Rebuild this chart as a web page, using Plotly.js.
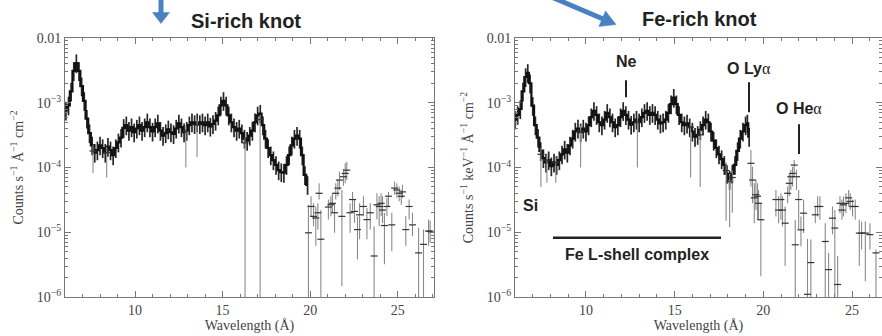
<!DOCTYPE html>
<html>
<head>
<meta charset="utf-8">
<script src="https://cdn.plot.ly/plotly-3.0.1.min.js"></script>
<style>html,body{margin:0;padding:0;background:#fff;}#chart{width:882px;height:336px;}</style>
</head>
<body>
<div id="chart"></div>
<script>
// ---------- DATA ----------
// Si-rich knot: densely binned part (wavelength in Å, flux)
const siDenseWl = [6.05,6.2,6.35,6.5,6.65,6.8,6.95,7.1,7.25,7.4,7.55,7.7,7.85,8.0,8.15,8.3,8.45,8.6,8.75,8.9,9.05,9.2,9.35,9.5,9.65,9.8,9.95,10.1,10.25,10.4,10.55,10.7,10.85,11.0,11.15,11.3,11.45,11.6,11.75,11.9,12.05,12.2,12.35,12.5,12.65,12.8,12.95,13.1,13.25,13.4,13.55,13.7,13.85,14.0,14.15,14.3,14.45,14.6,14.75,14.9,15.05,15.2,15.35,15.5,15.65,15.8,15.95,16.1,16.25,16.4,16.55,16.7,16.85,17.0,17.15,17.3,17.45,17.6,17.75,17.9,18.05,18.2,18.35,18.5,18.65,18.8,18.95,19.1,19.25,19.4,19.55,19.7,19.85];
const siDenseFlux = [7.6e-4,9.1e-4,1.5e-3,3.1e-3,4.1e-3,3.1e-3,1.8e-3,1.07e-3,5.7e-4,3.4e-4,2.2e-4,1.7e-4,1.85e-4,2.2e-4,2.0e-4,1.7e-4,2.1e-4,1.85e-4,1.55e-4,2.0e-4,2.45e-4,2.9e-4,4.1e-4,4.5e-4,3.7e-4,4.2e-4,3.5e-4,4.0e-4,4.5e-4,3.7e-4,4.2e-4,5.0e-4,4.2e-4,3.6e-4,4.2e-4,4.8e-4,3.7e-4,3.1e-4,3.4e-4,3.9e-4,3.5e-4,3.3e-4,4.0e-4,4.8e-4,4.2e-4,3.5e-4,3.7e-4,4.5e-4,5.0e-4,4.7e-4,5.0e-4,4.7e-4,5.0e-4,4.5e-4,5.0e-4,4.3e-4,4.7e-4,5.3e-4,6.4e-4,9.1e-4,1.07e-3,9.1e-4,6.4e-4,5.0e-4,4.2e-4,3.7e-4,4.0e-4,3.4e-4,2.8e-4,2.6e-4,3.1e-4,3.7e-4,5.0e-4,6.4e-4,6.8e-4,4.5e-4,2.8e-4,2.0e-4,1.55e-4,1.3e-4,1.1e-4,9.1e-5,8.5e-5,8.3e-5,1.1e-4,1.55e-4,2.2e-4,2.8e-4,3.1e-4,2.8e-4,1.55e-4,7.7e-5,5.4e-5];
// Si-rich knot: individual bins with error bars (value, upper end, lower end)
const siBinWl = [7.6,8.38,12.9,13.54,16.28,17.14,19.90,20.05,20.19,20.32,20.44,20.51,20.61,21.04,21.18,21.27,21.39,21.46,21.58,21.67,21.81,21.90,22.00,22.09,22.28,22.42,22.53,22.70,22.82,23.04,23.24,23.43,23.65,23.81,23.94,24.05,24.13,24.24,24.38,24.47,24.66,24.82,24.95,25.08,25.20,25.27,25.46,25.65,25.84,26.19,26.47,26.76,26.85];
const siBinFlux = [1.8e-4,1.7e-4,3.6e-4,4.5e-4,2.4e-4,5.5e-4,9.8e-6,2.5e-5,1.76e-5,1.66e-5,2.0e-5,4.0e-5,7.8e-6,2.45e-5,2.66e-5,2.8e-5,2.0e-5,4.0e-5,4.8e-5,6.4e-5,1.76e-5,7.2e-5,8.1e-5,9.1e-5,2.0e-5,3.2e-5,2.1e-5,1.1e-5,1.86e-5,2.5e-5,1.57e-5,2.0e-5,4.3e-6,2.66e-5,2.5e-5,2.8e-5,2.2e-5,1.27e-5,2.5e-5,3.6e-5,1.3e-5,4.8e-5,4.5e-5,4.0e-5,3.6e-5,4.2e-5,1.1e-5,2.5e-5,1.3e-5,4.8e-6,6.5e-6,1.04e-5,1.04e-5];
const siBinHi = [2.2e-4,2.1e-4,4.4e-4,5.5e-4,2.9e-4,6.5e-4,2.66e-5,3.6e-5,2.8e-5,2.5e-5,2.8e-5,5.7e-5,2.2e-5,3.2e-5,3.6e-5,4.0e-5,2.8e-5,5.7e-5,6.4e-5,8.6e-5,4.5e-5,9.5e-5,1.16e-4,1.23e-4,2.8e-5,4.2e-5,3.2e-5,1.76e-5,2.8e-5,3.6e-5,2.37e-5,2.8e-5,1.24e-5,4.0e-5,3.6e-5,4.0e-5,3.6e-5,2.0e-5,3.4e-5,4.2e-5,2.0e-5,6.1e-5,5.7e-5,5.1e-5,4.5e-5,5.4e-5,1.76e-5,3.2e-5,2.0e-5,1.17e-5,1.1e-5,1.57e-5,1.5e-5];
const siBinLo = [8.2e-5,7e-5,1e-4,1.45e-4,5e-7,5e-7,5e-7,1.76e-5,1.24e-5,6.2e-6,1.1e-5,3.2e-5,5e-7,1.57e-5,1.76e-5,2.0e-5,9.8e-6,3.2e-5,3.6e-5,4.5e-5,1.48e-6,5.2e-5,5.7e-5,6.4e-5,9.8e-6,2.2e-5,1.39e-5,3.8e-6,7.8e-6,1.76e-5,7.8e-6,1.1e-5,5e-7,1.57e-5,1.24e-5,1.76e-5,1.39e-5,3.2e-6,1.76e-5,2.5e-5,5.1e-6,3.8e-5,3.4e-5,3.0e-5,2.66e-5,3.4e-5,6.2e-6,1.57e-5,8.7e-6,5e-7,5e-7,6.2e-6,6.9e-6];

// Fe-rich knot: densely binned part
const feDenseWl = [6.0,6.15,6.3,6.45,6.6,6.72,6.85,7.0,7.15,7.3,7.45,7.6,7.75,7.9,8.05,8.2,8.35,8.5,8.65,8.8,8.95,9.1,9.25,9.4,9.55,9.7,9.85,10.0,10.15,10.3,10.45,10.6,10.75,10.9,11.05,11.2,11.35,11.5,11.65,11.8,11.95,12.1,12.25,12.4,12.55,12.7,12.85,13.0,13.15,13.3,13.45,13.6,13.75,13.9,14.05,14.2,14.35,14.5,14.65,14.8,14.95,15.1,15.25,15.4,15.55,15.7,15.85,16.0,16.15,16.3,16.45,16.6,16.75,16.9,17.05,17.2,17.35,17.5,17.65,17.8,17.95,18.1,18.25,18.4,18.55,18.7,18.85,19.0,19.1,19.2];
const feDenseFlux = [5.5e-4,6.5e-4,8e-4,1.5e-3,2.5e-3,2.9e-3,2.0e-3,9e-4,4.5e-4,2.9e-4,1.8e-4,1.4e-4,1.2e-4,1.3e-4,1.05e-4,1.2e-4,1.1e-4,1.3e-4,1.6e-4,1.9e-4,1.7e-4,2.2e-4,2.8e-4,3.6e-4,4.0e-4,3.5e-4,4.0e-4,3.6e-4,4.5e-4,6e-4,7.5e-4,6.5e-4,5e-4,4.5e-4,5.5e-4,7e-4,6e-4,5e-4,4.2e-4,4.5e-4,6e-4,7.5e-4,6.5e-4,5.5e-4,4.6e-4,5e-4,5.5e-4,5e-4,6e-4,7e-4,7.5e-4,6.5e-4,7e-4,6.5e-4,5.5e-4,4.8e-4,5e-4,5.5e-4,7e-4,9.5e-4,1.2e-3,9.5e-4,6.5e-4,5e-4,4.5e-4,4.8e-4,4.2e-4,3.6e-4,3.0e-4,3.2e-4,3.8e-4,4.5e-4,5.5e-4,5e-4,3.6e-4,2.6e-4,2.0e-4,1.6e-4,1.35e-4,1.1e-4,8e-5,6.5e-5,8e-5,1.1e-4,1.8e-4,2.8e-4,3.6e-4,4.5e-4,4.8e-4,3e-4];
// Fe-rich knot: individual bins with error bars
const feBinWl = [7.46,7.8,8.3,9.7,12.9,15.9,16.44,17.9,18.1,18.25,19.30,19.39,19.49,19.58,19.67,19.73,19.86,20.71,20.86,20.99,21.08,21.23,21.37,21.46,21.55,21.65,21.74,21.80,21.87,21.99,22.12,22.27,22.49,22.68,22.93,23.06,23.19,23.49,23.68,23.90,24.03,24.19,24.32,24.43,24.52,24.66,24.81,24.90,25.03,25.18,25.41,25.54,25.75,26.01,26.35];
const feBinFlux = [1.6e-4,1.3e-4,1.2e-4,3.6e-4,5e-4,4.2e-4,3.2e-4,9e-5,6e-5,7e-5,1.16e-4,6.4e-5,3.4e-5,3.8e-5,3.6e-5,2.8e-5,1.56e-5,3.2e-5,2.2e-5,3.2e-5,2.2e-5,1.38e-5,4.0e-5,5.7e-5,7.2e-5,8.1e-5,1.09e-4,6.4e-6,7.2e-5,3.2e-5,1.09e-5,1.97e-5,1.1e-6,3.4e-6,1.86e-5,2.5e-5,2.5e-5,7.2e-6,2.65e-6,1.65e-5,1.16e-5,1.56e-6,2.8e-5,2.2e-5,2.65e-5,2.8e-5,3.4e-5,3.0e-5,2.5e-5,2.5e-5,9.7e-6,9.7e-6,9.7e-6,9.2e-6,4.8e-6];
const feBinHi = [2e-4,1.6e-4,1.5e-4,4.4e-4,6e-4,5e-4,3.8e-4,1.2e-4,8e-5,9e-5,1.86e-4,1.03e-4,5.7e-5,6.4e-5,5.7e-5,4.5e-5,2.8e-5,4.5e-5,3.6e-5,4.0e-5,3.6e-5,2.5e-5,5.1e-5,8.1e-5,9.2e-5,1.03e-4,1.31e-4,1.56e-5,9.2e-5,4.5e-5,1.75e-5,3.2e-5,7.9e-6,7.7e-6,2.5e-5,3.6e-5,3.6e-5,1.38e-5,4.8e-6,2.5e-5,2.2e-5,4.3e-6,3.6e-5,3.2e-5,3.6e-5,4.0e-5,4.5e-5,4.0e-5,3.2e-5,3.2e-5,1.56e-5,1.47e-5,1.47e-5,1.38e-5,5.4e-6];
const feBinLo = [5e-5,5.8e-5,5.8e-5,1e-4,1e-4,7e-5,5e-5,1.5e-5,1.2e-5,2e-5,5.1e-5,2.8e-5,1.38e-5,2.2e-5,1.56e-5,1.56e-5,2.1e-6,1.75e-5,1.38e-5,1.56e-5,1.23e-5,3.0e-6,2.8e-5,3.6e-5,4.5e-5,5.1e-5,7.2e-5,5e-7,4.5e-5,1.09e-5,6.1e-6,9.7e-6,5e-7,5e-7,1.38e-5,1.75e-5,1.56e-5,5e-7,5e-7,9.3e-6,5e-7,5e-7,1.97e-5,1.56e-5,1.75e-5,1.97e-5,2.5e-5,2.2e-5,1.75e-5,1.56e-5,3.0e-6,5.4e-6,1.75e-6,5.4e-6,5e-7];

// Tick labels
const yTickVals = [1e-6,1e-5,1e-4,1e-3,1e-2];
const yTickText = ['10<sup>−6</sup>','10<sup>−5</sup>','10<sup>−4</sup>','10<sup>−3</sup>','0.01'];
const xTickVals = [10,15,20,25];

// ---------- PLOT ----------
const W = 882, H = 336, ML = 65, MR = 0, MT = 37.5, MB = 38.5;
const PW = W - ML - MR, PH = H - MT - MB;
const px = p => (p - ML) / PW;      // pixel -> paper x
const py = p => (H - MB - p) / PH;  // pixel -> paper y

function errs(v, hi, lo) {
  return {
    type: 'data', symmetric: false,
    array: v.map((x, i) => hi[i] - x),
    arrayminus: v.map((x, i) => x - lo[i]),
    color: '#8a8a8a', thickness: 1.1, width: 0
  };
}
function dense(x, y, ax) {
  return {
    x: x, y: y, xaxis: ax[0], yaxis: ax[1], type: 'scatter', mode: 'lines',
    line: {color: '#111', width: 2.2, shape: 'hvh'},
    error_y: {type: 'percent', value: 36, valueminus: 30, symmetric: false, color: '#262626', thickness: 1.7, width: 0},
    hoverinfo: 'skip', showlegend: false
  };
}
function bins(x, y, hi, lo, ax) {
  return {
    x: x, y: y, xaxis: ax[0], yaxis: ax[1], type: 'scatter', mode: 'markers',
    marker: {symbol: 'line-ew', size: 5, line: {width: 1.2, color: '#333'}},
    error_y: errs(y, hi, lo), hoverinfo: 'skip', showlegend: false
  };
}

const traces = [
  dense(siDenseWl, siDenseFlux, ['x', 'y']),
  bins(siBinWl, siBinFlux, siBinHi, siBinLo, ['x', 'y']),
  dense(feDenseWl, feDenseFlux, ['x2', 'y2']),
  bins(feBinWl, feBinFlux, feBinHi, feBinLo, ['x2', 'y2'])
];

const serif = 'Liberation Serif, Times New Roman, serif';
const sans = 'Liberation Sans, Arial, Helvetica, sans-serif';
const minorY = [];
for (let e = -6; e < -2; e++) for (let k = 2; k <= 9; k++) minorY.push(k * Math.pow(10, e));

function xax(domain, range, anchor) {
  return {
    domain: domain, range: range, anchor: anchor, type: 'linear',
    tickvals: xTickVals, ticks: 'inside', ticklen: 6, tickwidth: 1, tickcolor: '#777',
    showline: true, linecolor: '#777', linewidth: 1, mirror: 'allticks',
    showgrid: false, zeroline: false,
    minor: {dtick: 1, ticks: 'inside', ticklen: 3, tickcolor: '#777', showgrid: false},
    tickfont: {family: serif, size: 14, color: '#444'},
    title: {text: 'Wavelength (Å)', font: {family: serif, size: 14, color: '#444'}, standoff: 3}
  };
}
function yax(anchor, title) {
  return {
    type: 'log', range: [-6, -2], anchor: anchor, domain: [0, 1],
    tickvals: yTickVals, ticktext: yTickText, ticks: 'inside', ticklen: 6, tickcolor: '#777',
    showline: true, linecolor: '#777', linewidth: 1, mirror: 'allticks',
    showgrid: false, zeroline: false,
    minor: {tickvals: minorY, ticks: 'inside', ticklen: 3, tickcolor: '#777', showgrid: false},
    tickfont: {family: serif, size: 14, color: '#444'},
    title: {text: title, font: {family: serif, size: 14, color: '#444'}, standoff: 9}
  };
}

const lab = (x, y, t, size) => ({
  xref: 'paper', yref: 'paper', x: px(x), y: py(y), text: t, showarrow: false,
  xanchor: 'center', yanchor: 'middle', font: {family: sans, size: size, color: '#222', weight: 'bold'}
});
const alpha = '<span style="font-family:Liberation Serif;font-weight:normal">α</span>';

// blue pointer arrows drawn as shaft + triangular head (pixel positions -> paper)
const blue = '#4b80c3';
function arrow(x0, y0, x1, y1, headLen, headHalf) {
  const dx = x1 - x0, dy = y1 - y0, L = Math.hypot(dx, dy);
  const ux = dx / L, uy = dy / L, bx = x1 - ux * headLen, by = y1 - uy * headLen;
  const c1 = [bx - uy * headHalf, by + ux * headHalf], c2 = [bx + uy * headHalf, by - ux * headHalf];
  return [
    {type: 'line', xref: 'paper', yref: 'paper', x0: px(x0), y0: py(y0), x1: px(bx + ux), y1: py(by + uy),
     line: {color: blue, width: 5}},
    {type: 'path', xref: 'paper', yref: 'paper', fillcolor: blue, line: {color: blue, width: 0.5},
     path: `M ${px(x1)} ${py(y1)} L ${px(c1[0])} ${py(c1[1])} L ${px(c2[0])} ${py(c2[1])} Z`}
  ];
}

const layout = {
  width: W, height: H, margin: {l: ML, r: MR, t: MT, b: MB},
  paper_bgcolor: '#fff', plot_bgcolor: '#fff',
  xaxis: xax([0, px(434)], [6, 27.07], 'y'),
  yaxis: yax('x', 'Counts s<sup>−1</sup> Å<sup>−1</sup> cm<sup>−2</sup>'),
  xaxis2: xax([px(515), 1], [6, 26.69], 'y2'),
  yaxis2: yax('x2', 'Counts s<sup>−1</sup> keV<sup>−1</sup> Å<sup>−1</sup> cm<sup>−2</sup>'),
  annotations: [
    lab(246, 20, 'Si-rich knot', 20),
    lab(699, 18, 'Fe-rich knot', 20),
    lab(626, 61, 'Ne', 16),
    lab(749, 68, 'O Ly' + alpha, 16),
    lab(799, 108, 'O He' + alpha, 16),
    lab(530, 206, 'Si', 16),
    lab(637, 255, 'Fe L-shell complex', 16)
  ],
  shapes: [
    {type: 'line', xref: 'paper', yref: 'paper', x0: px(626), x1: px(626), y0: py(80), y1: py(97), line: {color: '#222', width: 2}},
    {type: 'line', xref: 'paper', yref: 'paper', x0: px(749), x1: px(749), y0: py(82), y1: py(112), line: {color: '#222', width: 2}},
    {type: 'line', xref: 'paper', yref: 'paper', x0: px(799), x1: px(799), y0: py(124), y1: py(154), line: {color: '#222', width: 2}},
    {type: 'line', xref: 'paper', yref: 'paper', x0: px(553), x1: px(721), y0: py(238), y1: py(238), line: {color: '#222', width: 2.5}}
  ].concat(arrow(161, -2, 161, 23, 11, 8.5), arrow(553, -3, 616, 24, 15, 8.5))
};

Plotly.newPlot('chart', traces, layout, {displayModeBar: false, staticPlot: true});
</script>
</body>
</html>
